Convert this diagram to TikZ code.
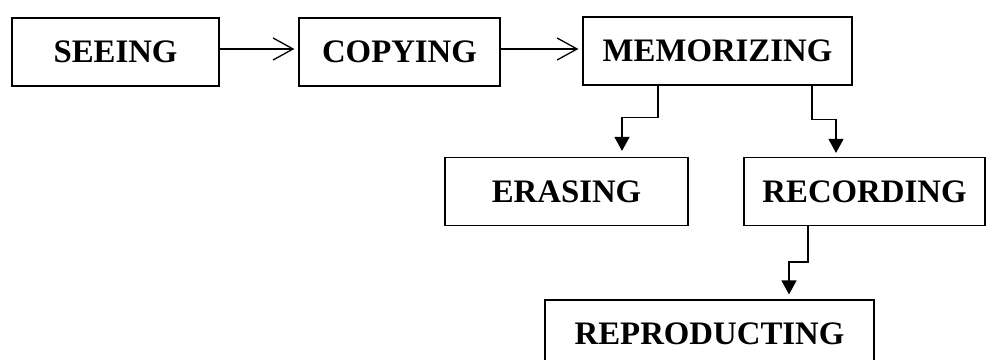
\documentclass[tikz,border=0pt]{standalone}
\usepackage{fontspec}
\setmainfont{Liberation Serif}
\usepackage{tikz}
\usetikzlibrary{arrows.meta}
\usetikzlibrary{calc}
\tikzstyle{stage} =[draw, line width=1pt, minimum height=20.4mm, inner sep=0pt, font=\fontsize{28}{34}\selectfont\bfseries]
\tikzstyle{arrow} =[-{Straight Barb[length=6mm, width=6.6mm]}, line width=1.1pt, shorten >=1.2mm]
\tikzstyle{drop} =[-{Triangle[length=4.2mm, width=4.5mm]}, line width=1.1pt]

\begin{document}
\begin{tikzpicture}[x=0.3mm, y=-0.3mm]
		\useasboundingbox (0,0) rectangle (987,359);
		\clip (0,0) rectangle (987,359);
		\node (seeing)[stage, minimum width=62.1mm] at (115.5,52) {SEEING};
		\node (copying)[stage, minimum width=60.3mm] at (399.5,52) {COPYING};
		\node (memorizing)[stage, minimum width=80.7mm] at (717.5,51) {MEMORIZING};
		\node (erasing)[stage, minimum width=72.9mm] at (566.5,191.5) {ERASING};
		\node (recording)[stage, minimum width=72.3mm] at (864.5,191.5) {RECORDING};
		\node (reproducting)[stage, minimum width=98.7mm] at (709.5,334) {REPRODUCTING};
		\draw[arrow] ($(seeing.east)+(0,-3)$) -- ($(copying.west)+(0,-3)$);
		\draw[arrow] ($(copying.east)+(0,-3)$) -- ($(memorizing.west)+(0,-2)$);
		\draw[drop] ($(memorizing.south)+(-59.5,0)$) -- ++(0,32) -| ($(erasing.north)+(55.5,-6)$);
		\draw[drop] ($(memorizing.south)+(94.5,0)$) -- ++(0,34) -| ($(recording.north)+(-28.5,-4)$);
		\draw[drop] ($(recording.south)+(-56.5,0)$) -- ++(0,36) -| ($(reproducting.north)+(79.5,-5)$);
\end{tikzpicture}
\end{document}
